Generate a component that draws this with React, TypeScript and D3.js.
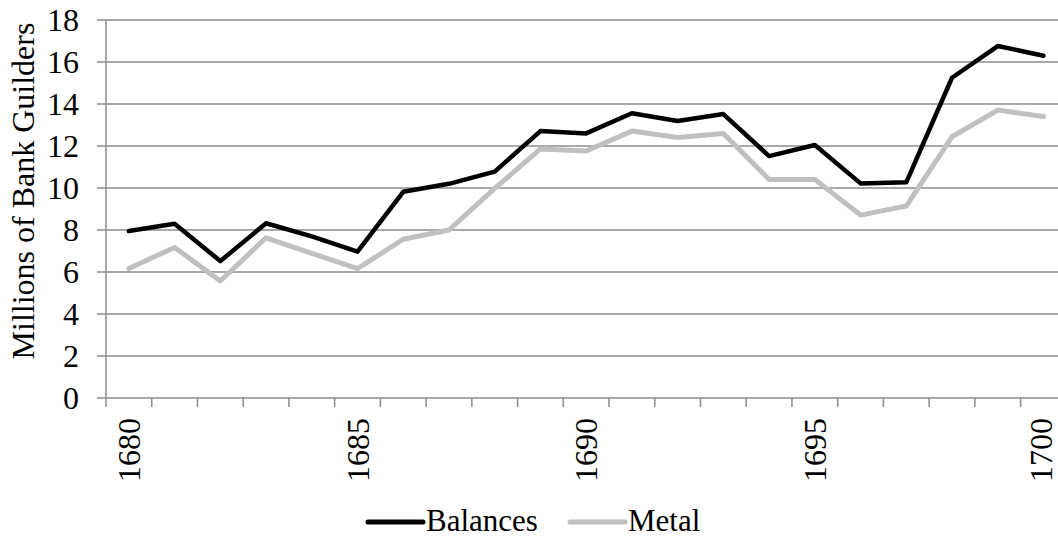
import React from "react";
import * as d3 from "d3";

const years = [1680,1681,1682,1683,1684,1685,1686,1687,1688,1689,1690,1691,1692,1693,1694,1695,1696,1697,1698,1699,1700];
const balances = [7.95,8.3,6.52,8.32,7.7,6.97,9.82,10.2,10.78,12.71,12.6,13.56,13.19,13.52,11.52,12.05,10.22,10.27,15.25,16.76,16.3];
const metal = [6.17,7.17,5.57,7.63,6.89,6.16,7.56,8.0,9.98,11.86,11.76,12.71,12.4,12.6,10.41,10.41,8.71,9.14,12.44,13.71,13.4];
const yTicks = [0,2,4,6,8,10,12,14,16,18];
const labeledYears = [1680,1685,1690,1695,1700];
const seriesNames = ["Balances","Metal"];
const seriesColors = ["#000000","#c0c0c0"];

const W = 1058, H = 539;
const left = 106, top = 20, bottom = 398;
const band = 45.73;
const right = left + band * years.length;
const FONT = "'Liberation Serif', 'Times New Roman', serif";
const FS = 32;

export default function App() {
  const x = d3.scaleBand<number>().domain(years).range([left, right]).paddingInner(0).paddingOuter(0);
  const y = d3.scaleLinear().domain([0, 18]).range([bottom, top]);
  const cx = (yr: number) => (x(yr) as number) + x.bandwidth() / 2;
  const line = d3.line<number>().x((_, i) => cx(years[i])).y(d => y(d));
  const grid = "#8c8c8c";
  const tickEdges = d3.range(years.length + 1).map(i => left + i * x.bandwidth());
  return (
    <svg width={W} height={H} style={{ position: "absolute", left: 0, top: 0, background: "#fff" }}>
      <rect width={W} height={H} fill="#fff" />
      {yTicks.map(t => (
        <g key={t}>
          <line x1={left - 9} x2={right} y1={y(t)} y2={y(t)} stroke={grid} strokeWidth={1.5} />
          <text x={79} y={y(t)} dy="0.35em" textAnchor="end" fontFamily={FONT} fontSize={FS} fill="#000">{t}</text>
        </g>
      ))}
      <line x1={left} x2={left} y1={top} y2={bottom} stroke={grid} strokeWidth={1.5} />
      {tickEdges.map((e, i) => (
        <line key={i} x1={e} x2={e} y1={bottom} y2={bottom + 9} stroke={grid} strokeWidth={1.5} />
      ))}
      {labeledYears.map(yr => (
        <text key={yr} transform={`translate(${Math.min(cx(yr), 1041)},418) rotate(-90)`} dy="0.35em" textAnchor="end" fontFamily={FONT} fontSize={FS} fill="#000">{yr}</text>
      ))}
      <text transform={`translate(23,191) rotate(-90)`} dy="0.35em" textAnchor="middle" fontFamily={FONT} fontSize={FS} fill="#000">Millions of Bank Guilders</text>
      <path d={line(metal) || ""} fill="none" stroke={seriesColors[1]} strokeWidth={5} strokeLinejoin="round" strokeLinecap="round" />
      <path d={line(balances) || ""} fill="none" stroke={seriesColors[0]} strokeWidth={4.5} strokeLinejoin="round" strokeLinecap="round" />
      {seriesNames.map((n, i) => {
        const lx = i === 0 ? 368 : 570;
        return (
          <g key={n}>
            <line x1={lx} x2={lx + 55} y1={522} y2={522} stroke={seriesColors[i]} strokeWidth={5} strokeLinecap="round" />
            <text x={lx + 58} y={531} fontFamily={FONT} fontSize={31} fill="#000">{n}</text>
          </g>
        );
      })}
    </svg>
  );
}
